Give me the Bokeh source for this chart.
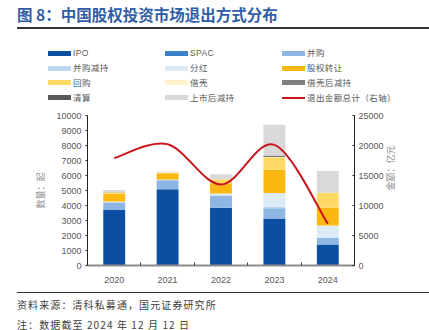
import math
from bokeh.plotting import figure
from bokeh.layouts import column
from bokeh.models import (Range1d, LinearAxis, FixedTicker, ColumnDataSource, Div)
from bokeh.embed import file_html
from bokeh.resources import INLINE

# ---------------- data ----------------
years = ["2020", "2021", "2022", "2023", "2024"]
ipo = [3700, 5080, 3850, 3140, 1400]
spac = [0, 0, 0, 0, 0]
ma = [480, 600, 780, 670, 445]
ma_reduce = [60, 40, 50, 90, 0]
dividend = [20, 10, 120, 930, 825]
transfer = [520, 420, 680, 1560, 1180]
buyback = [80, 40, 270, 830, 1000]
backdoor = [30, 20, 20, 20, 0]
backdoor_reduce = [10, 5, 10, 80, 0]
liquidation = [5, 5, 10, 20, 0]
post_ipo_reduce = [130, 50, 290, 2050, 1450]
exit_amount = [17900, 20200, 13500, 20100, 6950]

series_names = ["IPO", "SPAC", "并购", "并购减持", "分红", "股权转让", "回购",
                "借壳", "借壳后减持", "清算", "上市后减持"]
series_values = [ipo, spac, ma, ma_reduce, dividend, transfer, buyback,
                 backdoor, backdoor_reduce, liquidation, post_ipo_reduce]
colors = ["#0B4EA2", "#3A7FCB", "#8DB6E2", "#BDD7EE", "#DDEBF7", "#FBB812",
          "#FFD966", "#FFF2CC", "#7F7F7F", "#595959", "#D9D9D9"]
line_name = "退出金额总计（右轴）"
line_color = "#C8161D"
title_text = "图 8：中国股权投资市场退出方式分布"
source_text = "资料来源：清科私募通，国元证券研究所"
note_text = "注：数据截至 2024 年 12 月 12 日"

FONT = "Noto Sans CJK SC"
LAT = "Liberation Sans"
W = 429
HEAD_H = 104
FOOT_H = 44
MAIN_H = 330 - HEAD_H - FOOT_H
TOP_B = 11

# ---------------- header (title + rule + legend) ----------------
parts = [
    f'<div style="position:relative;width:{W}px;height:{HEAD_H}px;margin:0;padding:0;overflow:hidden;background:white;">',
    f'<div style="position:absolute;left:17px;top:3px;font-family:\'{FONT}\';font-size:15.5px;'
    f'font-weight:bold;color:#2F5DA8;line-height:22px;letter-spacing:0px;white-space:nowrap;">{title_text}</div>',
    f'<div style="position:absolute;left:17px;top:27px;width:{W - 17}px;height:1.5px;background:#333333;"></div>',
]
legend_entries = [(nm, c, "bar") for nm, c in zip(series_names, colors)]
legend_entries.append((line_name, line_color, "line"))
for k, (nm, c, kind) in enumerate(legend_entries):
    r, col = divmod(k, 3)
    lx = 48 + col * 117
    cy = 53.3 + r * 14.8
    if kind == "bar":
        parts.append(f'<div style="position:absolute;left:{lx}px;top:{cy - 2.5:.1f}px;width:23px;height:5px;background:{c};"></div>')
    else:
        parts.append(f'<div style="position:absolute;left:{lx}px;top:{cy - 1:.1f}px;width:23px;height:2px;background:{c};"></div>')
    parts.append(
        f'<div style="position:absolute;left:{lx + 25}px;top:{cy - 6:.1f}px;font-family:\'{LAT}\',\'{FONT}\';'
        f'font-size:8.5px;line-height:12px;color:#595959;letter-spacing:0.4px;white-space:nowrap;">{nm}</div>')
parts.append('</div>')
head = Div(text="".join(parts), width=W, height=HEAD_H, margin=0)

# ---------------- main chart ----------------
n = len(years)
xs = [i + 0.5 for i in range(n)]
data = {"x": xs}
keys = []
for i, vals in enumerate(series_values):
    k = f"s{i}"
    keys.append(k)
    data[k] = vals
src = ColumnDataSource(data)

p = figure(width=W, height=MAIN_H, output_backend="svg", toolbar_location=None,
           x_range=Range1d(0, n), y_range=Range1d(0, 10000),
           min_border_left=87, min_border_right=75, min_border_top=TOP_B,
           min_border_bottom=MAIN_H - TOP_B - 150)
p.outline_line_color = None
p.xgrid.visible = False
p.ygrid.visible = False
p.background_fill_color = "white"
p.border_fill_color = "white"

bars = p.vbar_stack(keys, x="x", width=0.41, source=src, color=colors,
                    line_color=None)

p.extra_y_ranges = {"right": Range1d(0, 25000)}
raxis = LinearAxis(y_range_name="right",
                   ticker=FixedTicker(ticks=[0, 5000, 10000, 15000, 20000, 25000]))
p.add_layout(raxis, "right")

# smooth line (Catmull-Rom -> cubic bezier)
ys = exit_amount
bx0, by0, bx1, by1, c0x, c0y, c1x, c1y = [], [], [], [], [], [], [], []
for i in range(n - 1):
    xm1 = xs[i - 1] if i > 0 else xs[i]
    ym1 = ys[i - 1] if i > 0 else ys[i]
    xp2 = xs[i + 2] if i + 2 < n else xs[i + 1]
    yp2 = ys[i + 2] if i + 2 < n else ys[i + 1]
    bx0.append(xs[i]); by0.append(ys[i])
    bx1.append(xs[i + 1]); by1.append(ys[i + 1])
    c0x.append(xs[i] + (xs[i + 1] - xm1) / 6.0)
    c0y.append(ys[i] + (ys[i + 1] - ym1) / 6.0)
    c1x.append(xs[i + 1] - (xp2 - xs[i]) / 6.0)
    c1y.append(ys[i + 1] - (yp2 - ys[i]) / 6.0)
bsrc = ColumnDataSource(dict(x0=bx0, y0=by0, x1=bx1, y1=by1,
                             cx0=c0x, cy0=c0y, cx1=c1x, cy1=c1y))
p.bezier(x0="x0", y0="y0", x1="x1", y1="y1", cx0="cx0", cy0="cy0",
         cx1="cx1", cy1="cy1", source=bsrc, y_range_name="right",
         line_color=line_color, line_width=2)

xaxis = p.xaxis[0]
xaxis.ticker = FixedTicker(ticks=xs, minor_ticks=[1, 2, 3, 4])
xaxis.major_label_overrides = {x: y for x, y in zip(xs, years)}
xaxis.major_tick_line_color = None
xaxis.minor_tick_in = 3
xaxis.minor_tick_out = 0
xaxis.minor_tick_line_color = "#404040"
xaxis.axis_line_color = "#8C8C8C"
xaxis.axis_line_width = 2
xaxis.major_label_standoff = 5

yaxis = p.yaxis[0]
yaxis.ticker = FixedTicker(ticks=list(range(0, 10001, 1000)))
yaxis.axis_label = "数量：起"
yaxis.axis_label_standoff = 6
yaxis.major_tick_in = 0
yaxis.major_tick_out = 2

raxis.axis_label = "金额：亿元"
raxis.axis_label_standoff = 4
raxis.major_tick_in = 2
raxis.major_tick_out = 0
try:
    raxis.axis_label_orientation = math.pi / 2
except Exception:
    pass

for ax in [xaxis, yaxis, raxis]:
    ax.major_label_text_font = LAT
    ax.major_label_text_font_size = "9px"
    ax.major_label_text_color = "#595959"
    ax.axis_label_text_font = FONT
    ax.axis_label_text_font_size = "9px"
    ax.axis_label_text_color = "#8C8C8C"
    ax.axis_label_text_font_style = "normal"
for ax in [yaxis, raxis]:
    ax.minor_tick_line_color = None
    ax.axis_line_color = "#222222"
    ax.major_tick_line_color = "#222222"
    ax.major_label_standoff = 4

# ---------------- footer (rule + notes) ----------------
foot_html = (
    f'<div style="position:relative;width:{W}px;height:{FOOT_H}px;margin:0;padding:0;overflow:hidden;background:white;">'
    f'<div style="position:absolute;left:17px;top:5.5px;width:{W - 17}px;height:1.5px;background:#333333;"></div>'
    f'<div style="position:absolute;left:17px;top:12px;font-family:\'{FONT}\';font-size:10px;color:#404040;'
    f'line-height:14px;letter-spacing:1.1px;white-space:nowrap;">{source_text}</div>'
    f'<div style="position:absolute;left:17px;top:32px;font-family:\'{FONT}\';font-size:10px;color:#404040;'
    f'line-height:14px;letter-spacing:1.1px;white-space:nowrap;">{note_text}</div>'
    '</div>'
)
foot = Div(text=foot_html, width=W, height=FOOT_H, margin=0)

layout = column(head, p, foot, spacing=0)
open("out.html", "w").write(file_html(layout, INLINE))
